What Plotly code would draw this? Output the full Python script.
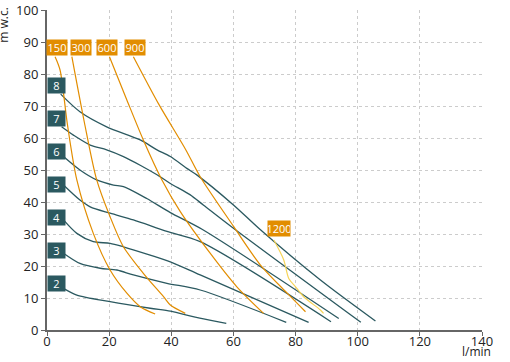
import plotly.graph_objects as go

# Pump curves (flow l/min, head m w.c.)
pump_labels = ["2", "3", "4", "5", "6", "7", "8"]
pump2_x = [5.3, 9.6, 20.3, 33.2, 39.7, 44.0, 50.4, 57.7]
pump2_y = [13.0, 10.9, 8.85, 6.8, 5.9, 4.9, 3.5, 2.1]
pump3_x = [5.3, 10.6, 17.1, 22.5, 27.8, 38.6, 49.3, 77.0]
pump3_y = [24.0, 20.8, 19.3, 18.75, 17.2, 14.6, 12.5, 2.4]
pump4_x = [5.3, 9.6, 14.9, 20.3, 24.6, 33.2, 39.7, 49.3, 84.2]
pump4_y = [34.4, 30.2, 27.6, 27.1, 26.0, 23.4, 21.3, 17.2, 2.4]
pump5_x = [5.3, 10.6, 13.9, 20.3, 27.8, 38.6, 49.3, 91.4]
pump5_y = [45.3, 40.6, 38.5, 36.5, 34.4, 30.8, 27.6, 2.6]
pump6_x = [5.3, 10.6, 16.0, 21.4, 24.6, 32.1, 39.7, 49.9, 93.9]
pump6_y = [54.2, 50.0, 46.9, 45.3, 44.8, 41.1, 36.7, 31.5, 3.6]
pump7_x = [4.7, 8.5, 13.9, 19.2, 24.6, 30.0, 35.4, 39.7, 46.0, 50.4, 60.0, 101.0]
pump7_y = [63.5, 60.9, 57.8, 56.3, 54.2, 51.5, 48.5, 45.8, 42.3, 39.0, 31.8, 2.4]
pump8_x = [4.4, 10.6, 19.2, 30.0, 35.4, 39.7, 45.0, 48.3, 60.1, 68.7, 88.0, 105.7]
pump8_y = [73.7, 68.2, 63.5, 59.4, 56.3, 54.2, 50.5, 48.4, 39.0, 31.3, 15.6, 2.8]
pump_label_y = [14.6, 25.0, 35.2, 45.5, 55.9, 66.2, 76.3]

# System curves
sys_labels = ["150", "300", "600", "900", "1200"]
sys150_x = [2.6, 4.2, 6.6, 9.6, 14.9, 20.3, 25.7, 30.0, 34.8]
sys150_y = [85.4, 81.25, 64.0, 46.9, 30.2, 18.75, 11.5, 7.3, 5.0]
sys300_x = [8.0, 12.0, 16.0, 20.3, 24.6, 31.0, 37.5, 39.7, 44.5]
sys300_y = [85.4, 65.0, 46.9, 35.4, 26.0, 17.7, 10.4, 7.8, 5.2]
sys600_x = [20.1, 25.7, 31.0, 37.0, 42.9, 52.5, 61.1, 69.7]
sys600_y = [85.4, 71.9, 59.4, 46.9, 37.0, 24.0, 13.5, 5.2]
sys900_x = [27.8, 36.0, 44.7, 49.3, 60.1, 68.7, 77.3, 83.2]
sys900_y = [85.4, 70.5, 56.25, 47.9, 32.3, 20.3, 11.5, 5.7]
sys1200_x = [73.0, 76.2, 77.8, 80.0, 82.6, 88.0, 89.0]
sys1200_y = [28.1, 21.9, 16.1, 13.5, 10.4, 6.25, 5.2]
sys_label_x = [3.2, 10.9, 19.3, 28.4, 74.6]
sys_label_y = [88.4, 88.4, 88.4, 88.4, 31.8]

x_ticks = [0, 20, 40, 60, 80, 100, 120, 140]
y_ticks = [0, 10, 20, 30, 40, 50, 60, 70, 80, 90, 100]

TEAL = "#2b5960"
ORANGE = "#e28d00"
YELLOW = "#f6d457"
FONT = "Open Sans"

fig = go.Figure()

pumps = [(pump2_x, pump2_y), (pump3_x, pump3_y), (pump4_x, pump4_y), (pump5_x, pump5_y),
         (pump6_x, pump6_y), (pump7_x, pump7_y), (pump8_x, pump8_y)]
for (xs, ys) in pumps:
    fig.add_trace(go.Scatter(x=xs, y=ys, mode="lines",
                             line=dict(color=TEAL, width=1.3, shape="spline", smoothing=0.8),
                             showlegend=False, hoverinfo="skip"))

systems = [(sys150_x, sys150_y, ORANGE), (sys300_x, sys300_y, ORANGE), (sys600_x, sys600_y, ORANGE),
           (sys900_x, sys900_y, ORANGE), (sys1200_x, sys1200_y, YELLOW)]
for (xs, ys, c) in systems:
    fig.add_trace(go.Scatter(x=xs, y=ys, mode="lines",
                             line=dict(color=c, width=1.2, shape="spline", smoothing=0.8),
                             showlegend=False, hoverinfo="skip"))

annotations = []
for lab, ly in zip(pump_labels, pump_label_y):
    annotations.append(dict(x=0, y=ly, xref="x", yref="y", text=lab, showarrow=False,
                            xanchor="left", yanchor="middle", bgcolor=TEAL,
                            width=17, height=15, borderpad=0,
                            font=dict(family=FONT, size=11, color="white")))
for lab, lx, ly in zip(sys_labels, sys_label_x, sys_label_y):
    annotations.append(dict(x=lx, y=ly, xref="x", yref="y", text=lab, showarrow=False,
                            xanchor="center", yanchor="middle", bgcolor=ORANGE,
                            width=22 if lab == "1200" else 20, height=15, borderpad=0,
                            font=dict(family=FONT, size=11, color="white")))
annotations.append(dict(x=-0.1, y=1.015, xref="paper", yref="paper", text="m w.c.", showarrow=False,
                        xanchor="center", yanchor="top", textangle=-90,
                        font=dict(family=FONT, size=12, color="#222")))
annotations.append(dict(x=1.025, y=-0.1, xref="paper", yref="paper", text="l/min", showarrow=False,
                        xanchor="right", yanchor="bottom",
                        font=dict(family=FONT, size=12, color="#222")))

axis_common = dict(showgrid=True, gridcolor="#cccccc", griddash="dot", gridwidth=1,
                   showline=True, linecolor="#666", linewidth=2, ticks="outside",
                   ticklen=4, tickcolor="#666", zeroline=False, automargin=False,
                   tickfont=dict(family=FONT, size=13, color="#222"))

fig.update_layout(
    width=510, height=362,
    margin=dict(l=47, r=28, t=10, b=32),
    paper_bgcolor="white", plot_bgcolor="white",
    xaxis=dict(range=[0, 140], tickvals=x_ticks, ticklabelstandoff=-6, **axis_common),
    yaxis=dict(range=[0, 100], tickvals=y_ticks, **axis_common),
    annotations=annotations,
)

fig.write_html("out.html", config={"displayModeBar": False},
               post_script="document.body.style.margin='0';document.body.style.padding='0';")
